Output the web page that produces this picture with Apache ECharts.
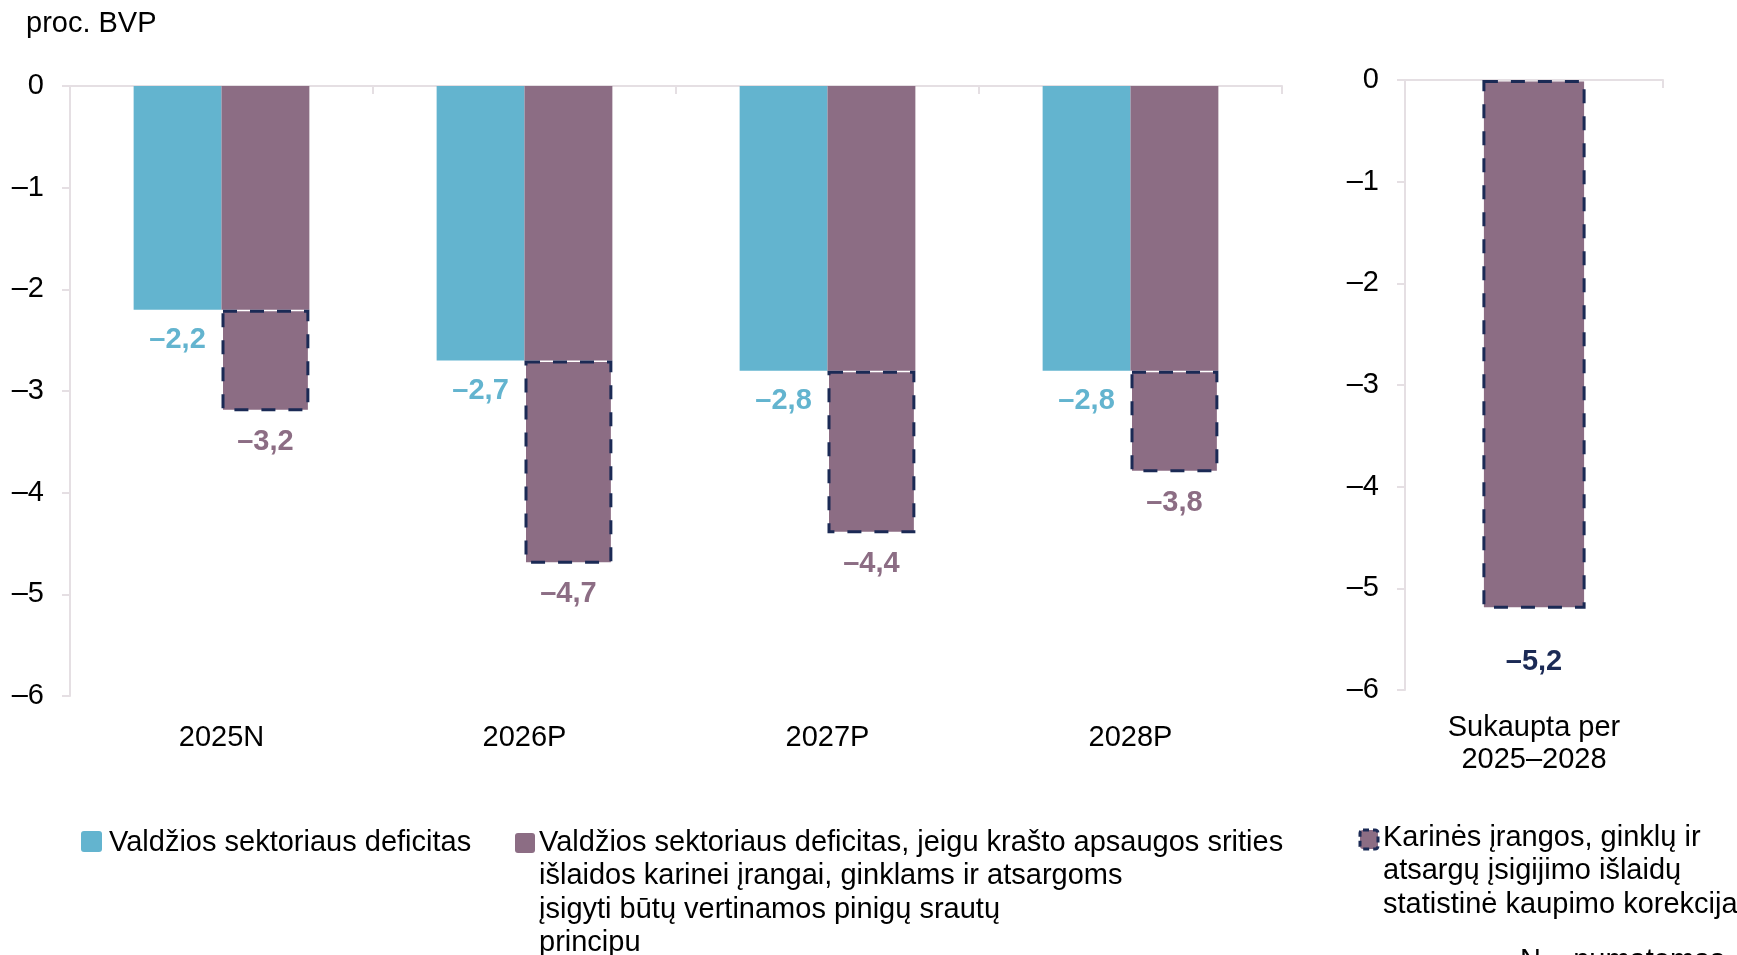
<!DOCTYPE html>
<html>
<head>
<meta charset="utf-8">
<script src="https://cdn.jsdelivr.net/npm/echarts@6/dist/echarts.min.js"></script>
<style>
  html, body { margin: 0; padding: 0; background: #ffffff; }
  #chart { width: 1737px; height: 955px; }
</style>
</head>
<body>
<div id="chart"></div>
<script>
// ---- data ----
const categories = ['2025N', '2026P', '2027P', '2028P'];
const deficit = [-2.2, -2.7, -2.8, -2.8];
const deficitCashBasis = [-3.2, -4.7, -4.4, -3.8];
const accumCategory = ['Sukaupta per\n2025–2028'];
const accumCorrection = [-5.2];
const yMin = -6, yMax = 0, yStep = 1;

const legendNames = [
  'Valdžios sektoriaus deficitas',
  'Valdžios sektoriaus deficitas, jeigu krašto apsaugos srities\nišlaidos karinei įrangai, ginklams ir atsargoms\nįsigyti būtų vertinamos pinigų srautų\nprincipu',
  'Karinės įrangos, ginklų ir\natsargų įsigijimo išlaidų\nstatistinė kaupimo korekcija'
];
const unitLabel = 'proc. BVP';
const footnote = 'N – numatomas, P – prognozė';

// ---- style ----
const CYAN = '#63b4cf';
const PURPLE = '#8c6d84';
const NAVY = '#1b2a55';
const AXIS = '#e5dfe3';
const FONT = '"Liberation Sans", Arial, sans-serif';
const FS = 29;

const fmt = v => (v < 0 ? '–' : '') + Math.abs(v).toFixed(1).replace('.', ',');
const tickFmt = v => (v < 0 ? '–' : '') + Math.abs(v);

// derived: extra part of cash-basis deficit stacked below the base
const basePart = deficit.slice();
const extraPart = deficitCashBasis.map((v, i) => +(v - deficit[i]).toFixed(2));

const chart = echarts.init(document.getElementById('chart'), null, { renderer: 'canvas' });

function yAxisCfg(gridIndex) {
  return {
    type: 'value', gridIndex, min: yMin, max: yMax, interval: yStep,
    axisLine: { show: true, lineStyle: { color: AXIS, width: 2 } },
    axisTick: { show: true, length: 8, lineStyle: { color: AXIS, width: 2 } },
    splitLine: { show: false },
    axisLabel: { formatter: tickFmt, fontSize: FS, color: '#000', fontFamily: FONT, margin: 26 }
  };
}

const option = {
  backgroundColor: '#ffffff',
  animation: false,
  textStyle: { fontFamily: FONT },
  grid: [
    { left: 70, top: 86, width: 1212, height: 610, containLabel: false },
    { left: 1405, top: 80, width: 258, height: 610, containLabel: false }
  ],
  xAxis: [
    { type: 'category', gridIndex: 0, position: 'top', data: categories,
      axisLine: { show: true, lineStyle: { color: AXIS, width: 2 } },
      axisTick: { show: true, inside: true, length: 8, lineStyle: { color: AXIS, width: 2 } },
      axisLabel: { show: false } },
    { type: 'category', gridIndex: 0, position: 'bottom', data: categories,
      axisLine: { show: false }, axisTick: { show: false },
      axisLabel: { fontSize: FS, color: '#000', fontFamily: FONT, margin: 27 } },
    { type: 'category', gridIndex: 1, position: 'top', data: accumCategory,
      axisLine: { show: true, lineStyle: { color: AXIS, width: 2 } },
      axisTick: { show: true, inside: true, length: 8, lineStyle: { color: AXIS, width: 2 } },
      axisLabel: { show: false } },
    { type: 'category', gridIndex: 1, position: 'bottom', data: accumCategory,
      axisLine: { show: false }, axisTick: { show: false },
      axisLabel: { fontSize: FS, color: '#000', fontFamily: FONT, margin: 22, lineHeight: 32 } }
  ],
  yAxis: [yAxisCfg(0), yAxisCfg(1)],
  series: [
    {
      name: legendNames[0], type: 'bar', xAxisIndex: 0, yAxisIndex: 0,
      data: deficit, barWidth: '29%', barGap: '0%',
      itemStyle: { color: CYAN },
      label: { show: true, position: 'bottom', distance: 16, formatter: p => fmt(p.value),
        color: CYAN, fontWeight: 'bold', fontSize: FS, fontFamily: FONT }
    },
    {
      name: legendNames[1], type: 'bar', xAxisIndex: 0, yAxisIndex: 0, stack: 'cash',
      data: basePart, barWidth: '29%', barGap: '0%',
      itemStyle: { color: PURPLE }
    },
    {
      name: legendNames[2], type: 'bar', xAxisIndex: 0, yAxisIndex: 0, stack: 'cash',
      data: extraPart, barWidth: '29%', barGap: '0%',
      itemStyle: { color: PURPLE, borderColor: NAVY, borderWidth: 3, borderType: [14, 13] },
      label: { show: true, position: 'bottom', distance: 16,
        formatter: p => fmt(deficitCashBasis[p.dataIndex]),
        color: PURPLE, fontWeight: 'bold', fontSize: FS, fontFamily: FONT }
    },
    {
      name: 'accum', type: 'bar', xAxisIndex: 2, yAxisIndex: 1,
      data: accumCorrection, barWidth: '40%',
      itemStyle: { color: PURPLE, borderColor: NAVY, borderWidth: 3, borderType: [14, 13] },
      label: { show: true, position: 'bottom', distance: 39, formatter: p => fmt(p.value),
        color: NAVY, fontWeight: 'bold', fontSize: FS, fontFamily: FONT }
    }
  ],
  graphic: [
    { type: 'text', left: 26, top: 9, style: { text: unitLabel, fontSize: FS, fontFamily: FONT, fill: '#000' } },
    // legend 1
    { type: 'rect', shape: { x: 81, y: 831, width: 21, height: 21, r: 3 }, style: { fill: CYAN } },
    { type: 'text', x: 109, y: 843, style: { text: legendNames[0], fontSize: FS, fontFamily: FONT, fill: '#000', verticalAlign: 'middle' } },
    // legend 2
    { type: 'rect', shape: { x: 515, y: 833, width: 20, height: 20, r: 3 }, style: { fill: PURPLE } },
    { type: 'text', x: 539, y: 826, style: { text: legendNames[1], fontSize: FS, fontFamily: FONT, fill: '#000', verticalAlign: 'top', lineHeight: 33.5 } },
    // legend 3
    { type: 'rect', shape: { x: 1360, y: 830, width: 18, height: 19, r: 3 }, style: { fill: PURPLE, stroke: NAVY, lineWidth: 3, lineDash: [6, 4] } },
    { type: 'text', x: 1383, y: 821, style: { text: legendNames[2], fontSize: FS, fontFamily: FONT, fill: '#000', verticalAlign: 'top', lineHeight: 33.5 } },
    // footnote (cut at bottom edge)
    { type: 'text', x: 1520, y: 961, style: { text: footnote, fontSize: FS, fontFamily: FONT, fill: '#000', verticalAlign: 'middle' } }
  ]
};

chart.setOption(option);
</script>
</body>
</html>
